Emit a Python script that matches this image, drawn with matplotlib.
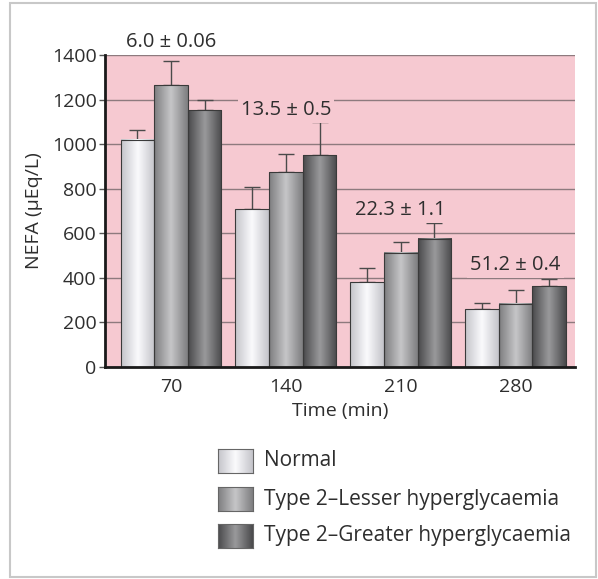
import numpy as np
import matplotlib.pyplot as plt
from matplotlib.patches import Rectangle
from matplotlib.colors import LinearSegmentedColormap

plt.rcParams['font.family'] = ['Open Sans', 'DejaVu Sans']

# ---- data ----
time_labels = ['70', '140', '210', '280']
series_names = ['Normal', 'Type 2\u2013Lesser hyperglycaemia', 'Type 2\u2013Greater hyperglycaemia']
normal = [1020, 707, 380, 260]
lesser = [1265, 875, 512, 284]
greater = [1152, 950, 575, 362]
normal_err = [45, 99, 63, 27]
lesser_err = [108, 80, 49, 63]
greater_err = [48, 150, 70, 33]
glucose_labels = ['6.0 \u00b1 0.06', '13.5 \u00b1 0.5', '22.3 \u00b1 1.1', '51.2 \u00b1 0.4']

values = [normal, lesser, greater]
errors = [normal_err, lesser_err, greater_err]

# horizontal gradient colours (edge, centre) for each series
shades = [('#c4c4ca', '#fbfbfd'), ('#7e7e80', '#c6c6c8'), ('#4a4a4c', '#9a9a9c')]
cmaps = [LinearSegmentedColormap.from_list(f'g{i}', [e, c, e]) for i, (e, c) in enumerate(shades)]

pink = '#f6c9d1'
grid_col = '#8e7a7e'
ink = '#2e2e2e'
FS_TICK = 14
FS_LAB = 14.5
FS_LEG = 15

fig = plt.figure(figsize=(5.98, 5.79), dpi=100)
ax = fig.add_axes([105 / 598, 1 - 367 / 579, 470 / 598, 312 / 579])
ax.set_facecolor(pink)

x = np.arange(len(time_labels))
w = 0.293
offsets = [-w, 0, w]
grad = np.linspace(0, 1, 64)[None, :]

for s in range(3):
    xs = x + offsets[s]
    bars = ax.bar(xs, values[s], width=w, color='none', edgecolor='#3a3a3a', linewidth=0.8, zorder=4)
    for b in bars:
        x0, y0 = b.get_x(), b.get_y()
        ax.imshow(grad, extent=[x0, x0 + b.get_width(), y0, y0 + b.get_height()],
                  cmap=cmaps[s], aspect='auto', zorder=3, interpolation='bicubic')
    ax.errorbar(xs, values[s], yerr=[np.zeros(4), errors[s]], fmt='none',
                ecolor='#4a4a4a', elinewidth=1.0, capsize=6, capthick=1.0, zorder=2)

ax.set_xlim(-0.575, 3.518)
ax.set_ylim(0, 1400)
ax.set_yticks(np.arange(0, 1401, 200))
ax.set_xticks(x)
ax.set_xticklabels(time_labels)
ax.yaxis.grid(True, color=grid_col, linewidth=1.0, zorder=0)
ax.set_axisbelow(True)

for sp in ['top', 'right']:
    ax.spines[sp].set_visible(False)
for sp in ['left', 'bottom']:
    ax.spines[sp].set_color('#1a1a1a')
    ax.spines[sp].set_linewidth(2.0)
    ax.spines[sp].set_zorder(6)

ax.tick_params(axis='y', length=4, width=1, color='#555555', labelsize=FS_TICK, labelcolor=ink, pad=2)
ax.tick_params(axis='x', length=0, labelsize=FS_TICK, labelcolor=ink, pad=8)
ax.set_ylabel('NEFA (\u03bcEq/L)', fontsize=FS_TICK, color=ink, labelpad=6)
ax.set_xlabel('Time (min)', fontsize=FS_TICK, color=ink, labelpad=4)

# glucose annotations above each group
label_y = [1458, 1153, 704, 457]
for i, t in enumerate(glucose_labels):
    box = None
    if i > 0:
        box = dict(boxstyle='square,pad=0.15', facecolor=pink, edgecolor='none')
    ax.text(x[i], label_y[i], t, ha='center', va='center', fontsize=FS_LAB, color=ink, zorder=5,
            clip_on=False, bbox=box)

# legend swatches with the same gradients
ys = [449, 487, 524]
for s in range(3):
    sw = fig.add_axes([218 / 598, 1 - (ys[s] + 24) / 579, 35 / 598, 24 / 579])
    sw.imshow(grad, cmap=cmaps[s], aspect='auto', interpolation='bicubic')
    sw.set_xticks([])
    sw.set_yticks([])
    for sp in sw.spines.values():
        sp.set_color('#666666')
        sp.set_linewidth(0.8)
    fig.text(264 / 598, 1 - (ys[s] + 12) / 579, series_names[s], fontsize=FS_LEG,
             color=ink, va='center', ha='left')

# outer frame
fig.patches.append(Rectangle((10 / 598, 2 / 579), 586 / 598, 574 / 579, transform=fig.transFigure,
                             fill=False, edgecolor='#c8c8c8', linewidth=1.5))

fig.savefig('out.png', dpi=100)
